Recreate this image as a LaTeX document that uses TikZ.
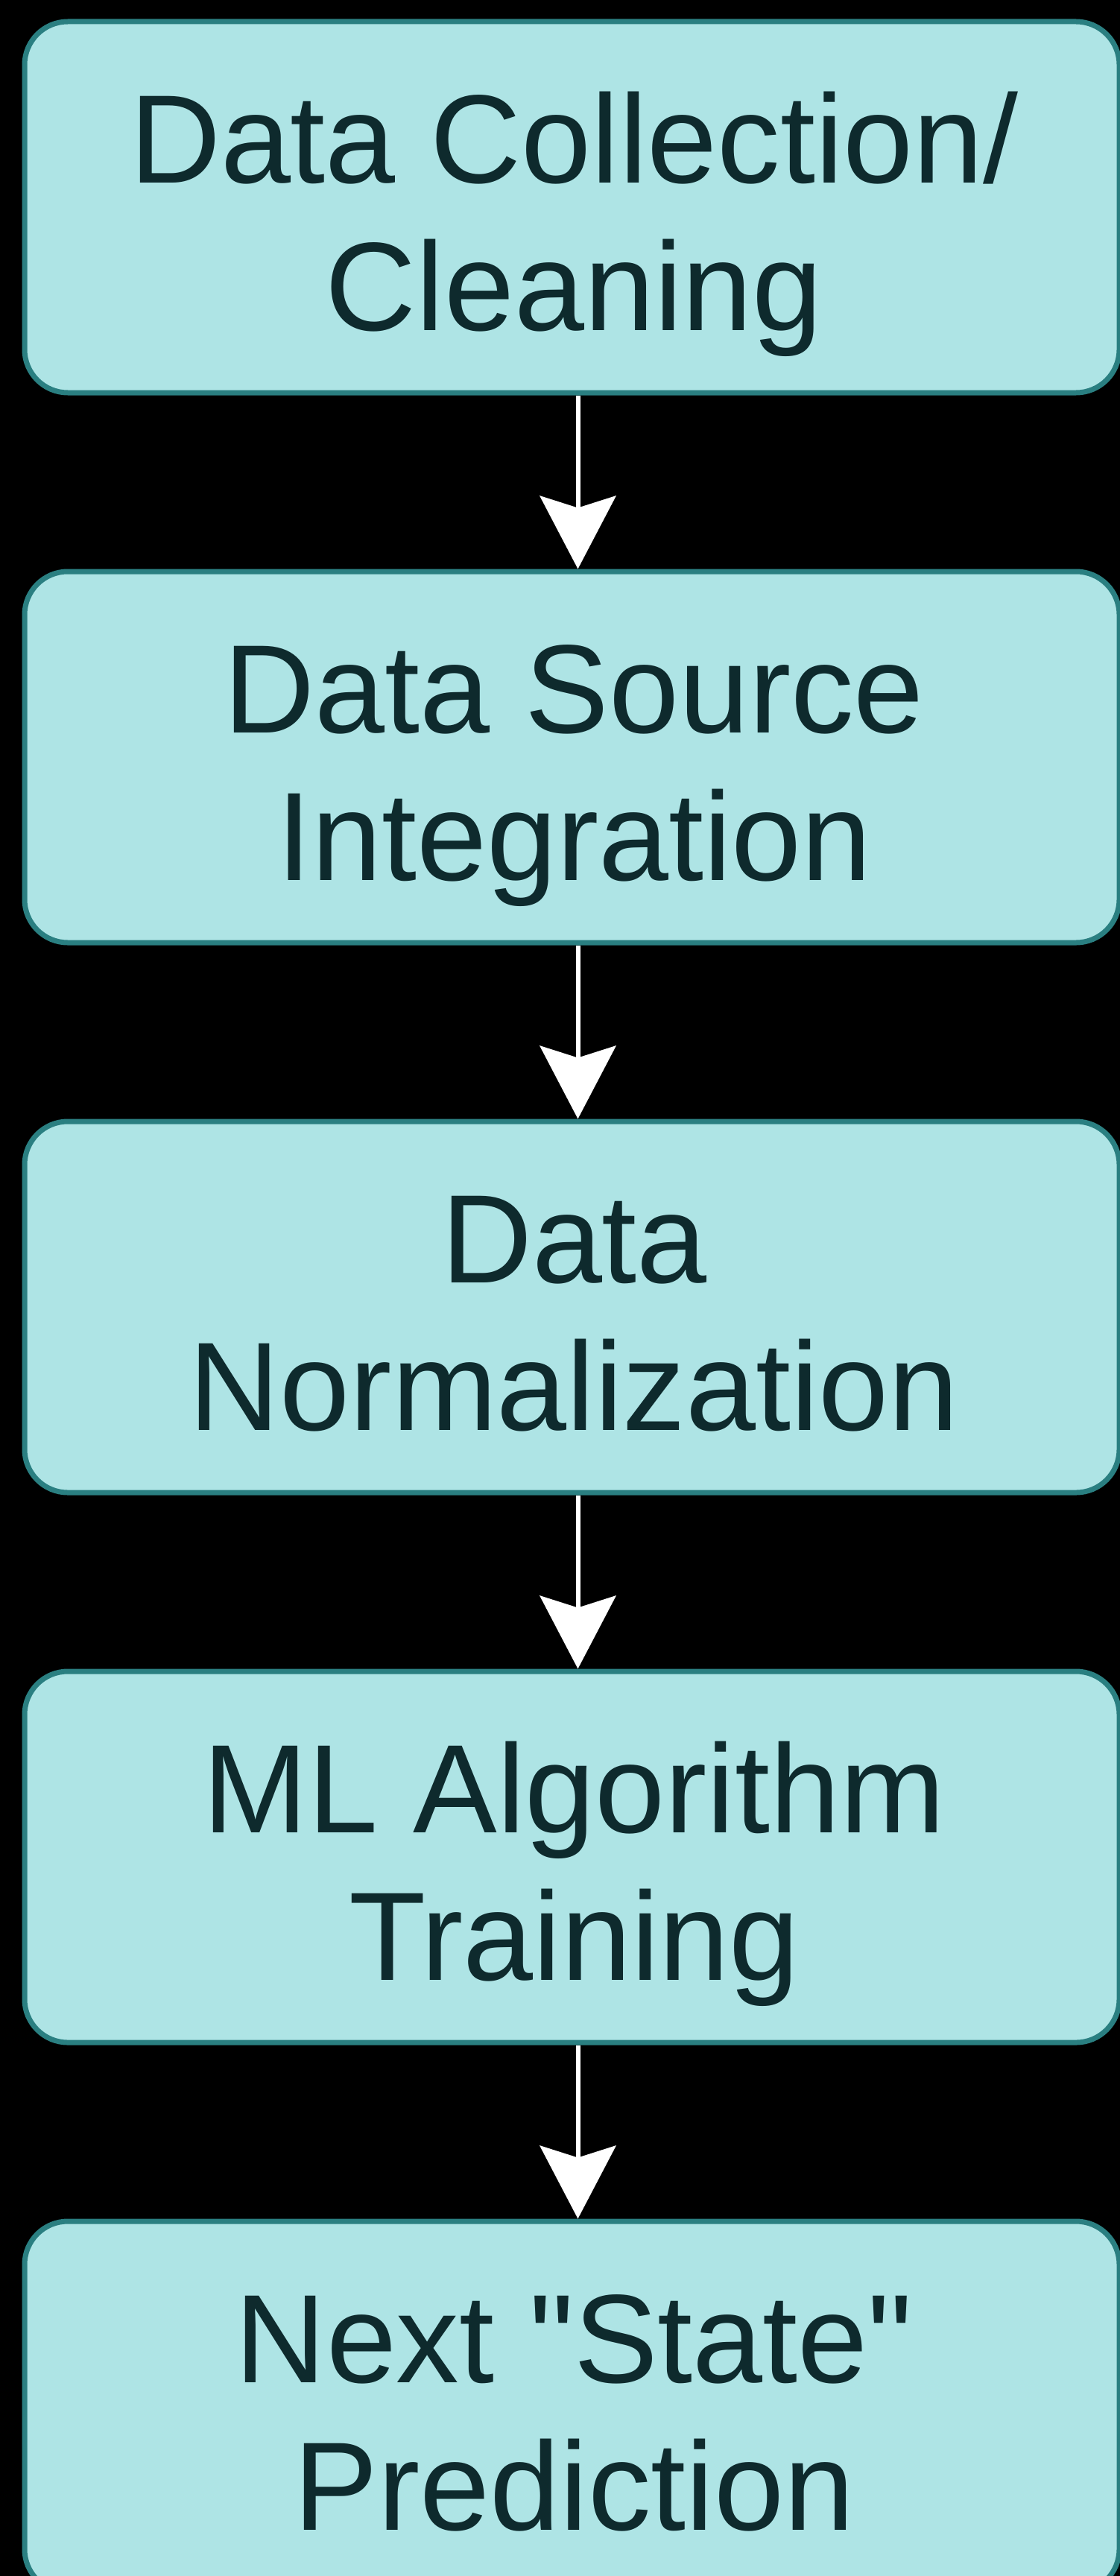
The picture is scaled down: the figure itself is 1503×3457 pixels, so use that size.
\documentclass[tikz,border=0pt]{standalone}
\usepackage{fontspec}
\newfontfamily\stepfont{Liberation Sans}
\usetikzlibrary{arrows.meta}
\definecolor{boxfill}{HTML}{AEE4E5}
\definecolor{boxline}{HTML}{2A7F81}
\definecolor{txt}{HTML}{0E2A2D}
\tikzset{
  stepbox/.style={draw=boxline, line width=7pt, fill=boxfill, rounded corners=58pt,
    minimum width=1469pt, minimum height=498pt, inner sep=0pt},
  steptext/.style={anchor=base, align=center, text=txt, inner sep=0pt,
    font=\stepfont\fontsize{169}{198}\selectfont},
  flow/.style={draw=white, line width=6pt,
    -{Stealth[length=98pt, width=102pt, inset=16pt]}}
}
\begin{document}
\begin{tikzpicture}[x=1pt, y=-1pt]
\useasboundingbox (0,0) rectangle (1503,3457);
\fill[black] (0,0) rectangle (1503,3457);
\node[stepbox] (b1) at (767.5,278) {};
\node[stepbox] (b2) at (767.5,1016) {};
\node[stepbox] (b3) at (767.5,1754) {};
\node[stepbox] (b4) at (767.5,2492) {};
\node[stepbox] (b5) at (767.5,3230) {};
\node[steptext] (t1) at ([xshift=3pt, yshift=-165pt]b1.center) {Data Collection/\\Cleaning};
\node[steptext] (t2) at ([xshift=3pt, yshift=-165pt]b2.center) {Data Source\\Integration};
\node[steptext] (t3) at ([xshift=3pt, yshift=-165pt]b3.center) {Data\\Normalization};
\node[steptext] (t4) at ([xshift=3pt, yshift=-165pt]b4.center) {ML Algorithm\\Training};
\node[steptext] (t5) at ([xshift=3pt, yshift=-165pt]b5.center) {Next "State"\\Prediction};
\draw[flow] ([xshift=8pt]b1.south) -- ([xshift=8pt]b2.north);
\draw[flow] ([xshift=8pt]b2.south) -- ([xshift=8pt]b3.north);
\draw[flow] ([xshift=8pt]b3.south) -- ([xshift=8pt]b4.north);
\draw[flow] ([xshift=8pt]b4.south) -- ([xshift=8pt]b5.north);
\end{tikzpicture}
\end{document}
